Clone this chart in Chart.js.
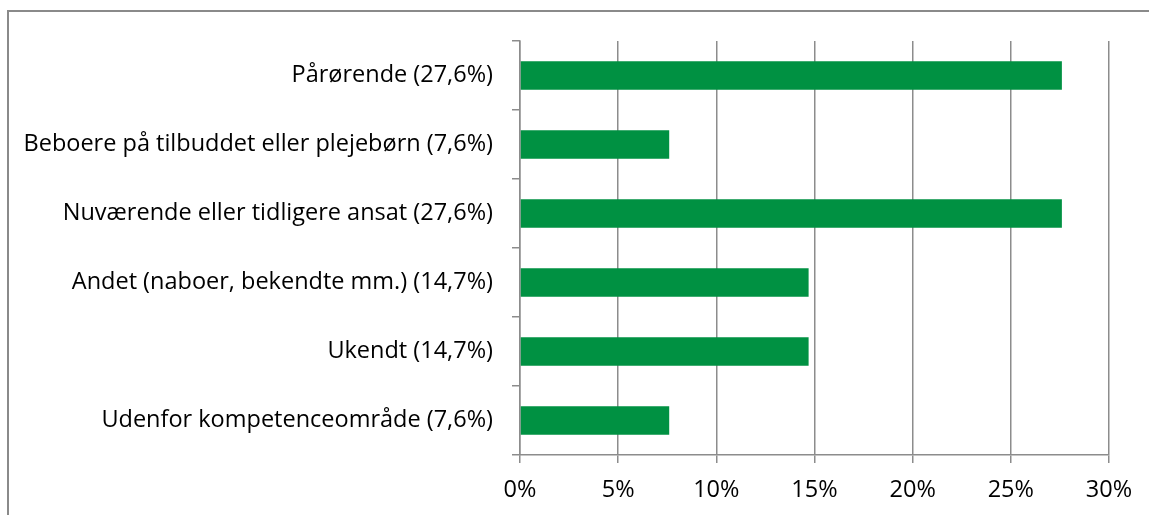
<!DOCTYPE html>
<html>
<head>
<meta charset="utf-8">
<script src="https://cdn.jsdelivr.net/npm/chart.js@4"></script>
<style>
  html, body { margin: 0; padding: 0; background: #fff; }
  #wrap { position: relative; width: 1149px; height: 515px; overflow: hidden; }
  #ramme { position: absolute; left: 7px; top: 10px; width: 1200px; height: 600px;
           border-left: 2px solid #8a8a8a; border-top: 2px solid #8a8a8a; }
  canvas { position: absolute; left: 0; top: 0; }
</style>
</head>
<body>
<div id="wrap">
  <div id="ramme"></div>
  <canvas id="grafFordeling" width="1149" height="515"></canvas>
</div>
<script>
// kategorier (labels som i figuren)
var kategorier = [
    'Pårørende (27,6%)',
    'Beboere på tilbuddet eller plejebørn (7,6%)',
    'Nuværende eller tidligere ansat (27,6%)',
    'Andet (naboer, bekendte mm.) (14,7%)',
    'Ukendt (14,7%)',
    'Udenfor kompetenceområde (7,6%)'
];

// andele i procent
var andele = [27.6, 7.6, 27.6, 14.7, 14.7, 7.6];

// akse
var aksePct = [0, 5, 10, 15, 20, 25, 30];

var gitterFarve = '#8c8c8c';
var skrift = { family: '"Open Sans", sans-serif', size: 23.5 };

const ctx = document.getElementById('grafFordeling');

new Chart(ctx, {
    type: 'bar',
    data: {
        labels: kategorier,
        datasets: [{
            data: andele,
            backgroundColor: '#009142',
            borderWidth: 0,
            barPercentage: 0.41,
            categoryPercentage: 1
        }]
    },
    options: {
        indexAxis: 'y',
        responsive: false,
        animation: false,
        layout: { padding: { top: 41, right: 40, left: 0, bottom: 0 } },
        plugins: { legend: { display: false }, tooltip: { enabled: false } },
        scales: {
            x: {
                min: aksePct[0],
                max: aksePct[aksePct.length - 1],
                ticks: {
                    stepSize: 5,
                    color: '#000',
                    font: skrift,
                    padding: 13,
                    callback: function(v){ return v + '%'; }
                },
                grid: { color: gitterFarve, lineWidth: 1.5, tickLength: 8 },
                border: { color: gitterFarve, width: 1.5 },
                afterFit: function(scale){ scale.height = 60; }
            },
            y: {
                ticks: { color: '#000', font: skrift, padding: 19 },
                grid: { color: gitterFarve, lineWidth: 1.5, tickLength: 8, drawOnChartArea: false, offset: true },
                border: { color: gitterFarve, width: 1.5 },
                afterFit: function(scale){ scale.width = 520; }
            }
        }
    }
});
</script>
</body>
</html>
